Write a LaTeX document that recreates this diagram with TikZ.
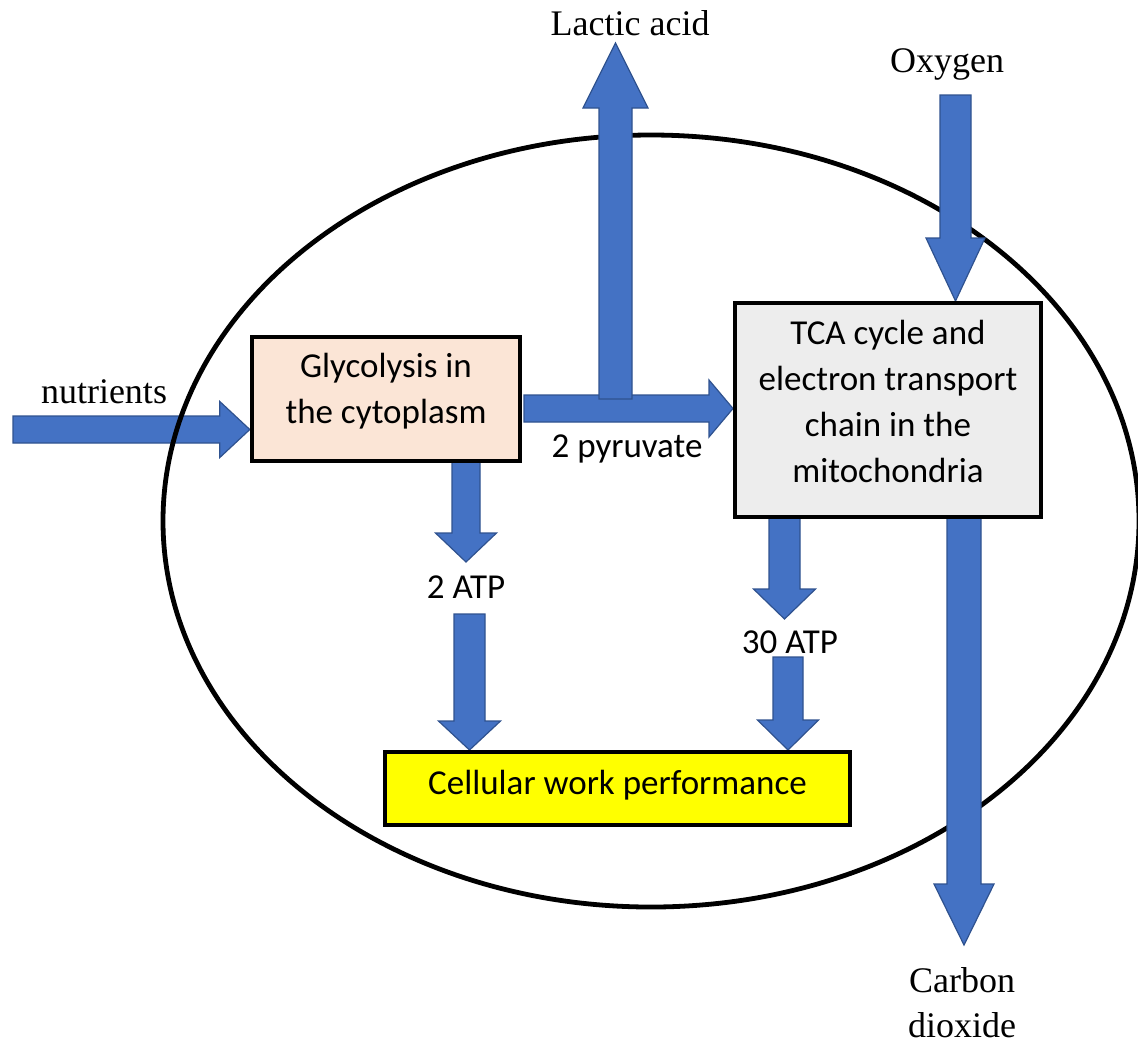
\documentclass[tikz,border=0pt]{standalone}
\usepackage{fontspec}
\setmainfont{Liberation Serif}
\newfontfamily\calib{Carlito}
\usetikzlibrary{calc,backgrounds}
\definecolor{arrblue}{HTML}{4472C4}
\definecolor{arredge}{HTML}{2F528F}
\definecolor{glyfill}{HTML}{FBE5D6}
\definecolor{tcafill}{HTML}{EDEDED}
\definecolor{workfill}{HTML}{FFFF00}
% #1 start, #2 tip, #3 half shaft width, #4 half head width, #5 head length
\newcommand{\drawblockarrow}[5]{%
  \coordinate (hb) at ($(#2)!#5!(#1)$);
  \filldraw[blockarr] ($(#1)!#3!90:(#2)$) -- ($(hb)!#3!90:(#2)$) -- ($(hb)!#4!90:(#2)$) -- (#2)
    -- ($(hb)!#4!-90:(#2)$) -- ($(hb)!#3!-90:(#2)$) -- ($(#1)!#3!-90:(#2)$) -- cycle;}
\begin{document}
\begin{tikzpicture}[x=0.5pt,y=-0.5pt,
  blockarr/.style={fill=arrblue,draw=arredge,line width=0.6pt,line join=miter},
  box/.style={draw=black,line width=2.2pt,align=center,font=\calib\fontsize{17.5pt}{23pt}\selectfont,inner sep=0pt},
  serif/.style={font=\fontsize{18pt}{22.5pt}\selectfont,inner sep=0pt},
  sans/.style={font=\calib\fontsize{17.5pt}{23pt}\selectfont,inner sep=0pt}]
\useasboundingbox (0,0) rectangle (1138,1046);

% boxes
\node[box,fill=glyfill,minimum width=134pt,minimum height=62pt] (gly) at (386,399) {Glycolysis in\\the cytoplasm\rule[-10.7pt]{0pt}{0pt}};
\node[box,fill=tcafill,minimum width=152.8pt,minimum height=106.8pt] (tca) at (888,410) {TCA cycle and\\electron transport\\chain in the\\mitochondria\rule[-8.5pt]{0pt}{0pt}};
\node[box,fill=workfill,minimum width=232.3pt,minimum height=36.3pt] (work) at (617.5,788.5) {Cellular work performance\rule[-5.7pt]{0pt}{0pt}};

% labels
\node[serif,anchor=base] (lactic) at (630,35) {Lactic acid};
\node[serif,anchor=base] (oxy) at (947,72) {Oxygen};
\node[serif,anchor=base] (nutr) at (104,403) {nutrients};
\node[serif,anchor=base,align=center] (co2) at (962,1037) {Carbon\\dioxide};
\node[sans,anchor=base] (pyr) at (627,457) {2 pyruvate};
\node[sans,anchor=base] (atp2) at (466,598) {2 ATP};
\node[sans,anchor=base] (atp30) at (790,653) {30 ATP};

% arrow end points
\coordinate (nutS) at (13,429.5);
\coordinate (nutT) at (gly.west |- nutS);
\coordinate (pyrS) at (524,408.5);
\coordinate (pyrT) at (tca.west |- pyrS);
\coordinate (lacS) at (615.5,399);
\coordinate (lacT) at (615.5,43);
\coordinate (oxS) at (955.5,95);
\coordinate (oxT) at (oxS |- tca.north);
\coordinate (coS) at (964,517);
\coordinate (coT) at (964,945);
\coordinate (a2S) at (466,462);
\coordinate (a2T) at (466,562);
\coordinate (b2S) at (469.5,614);
\coordinate (b2T) at (b2S |- work.north);
\coordinate (a30S) at (784.5,517);
\coordinate (a30T) at (784.5,619);
\coordinate (b30S) at (788,657);
\coordinate (b30T) at (b30S |- work.north);

\begin{scope}[on background layer]
  \drawblockarrow{nutS}{nutT}{6.75pt}{14pt}{15pt}
  \draw[line width=2.4pt] (651,521) ellipse [x radius=488, y radius=386];
  \drawblockarrow{pyrS}{pyrT}{6.75pt}{14.25pt}{12pt}
  \drawblockarrow{lacS}{lacT}{8.25pt}{16.25pt}{32.5pt}
  \drawblockarrow{oxS}{oxT}{7.75pt}{14.75pt}{31.5pt}
  \drawblockarrow{coS}{coT}{8.5pt}{15pt}{30.5pt}
  \drawblockarrow{a2S}{a2T}{7pt}{15.25pt}{14.5pt}
  \drawblockarrow{b2S}{b2T}{7.75pt}{15.5pt}{14.5pt}
  \drawblockarrow{a30S}{a30T}{7.75pt}{15.5pt}{15pt}
  \drawblockarrow{b30S}{b30T}{7.5pt}{15.25pt}{15pt}
\end{scope}
\end{tikzpicture}
\end{document}
